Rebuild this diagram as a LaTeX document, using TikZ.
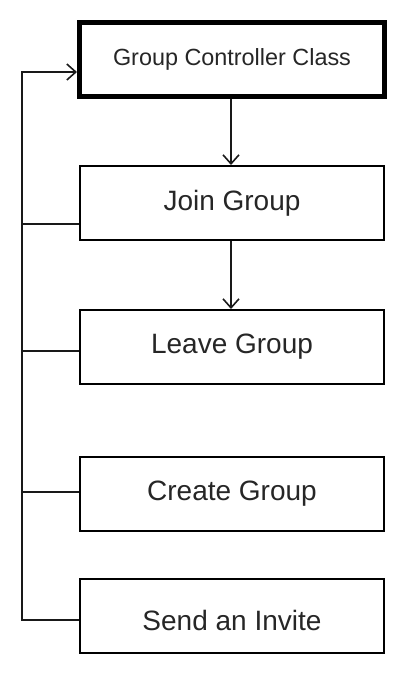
\documentclass[tikz,border=0pt]{standalone}
\usepackage{fontspec}
\setmainfont{Liberation Sans}
\usetikzlibrary{arrows.meta}
\begin{document}
\begin{tikzpicture}[x=1pt,y=-1pt,
  box/.style={draw=black, line width=2pt, minimum width=304.5pt, minimum height=74pt, inner sep=0pt, text=black!85, font=\fontsize{28}{32}\selectfont},
  topbox/.style={box, line width=5pt, minimum width=305pt, font=\fontsize{23.4}{27}\selectfont},
  conn/.style={line width=1.6pt, draw=black!90},
  tip/.style={-{Straight Barb[length=9pt,width=16pt,line width=1.6pt]}}
]
\useasboundingbox (0,0) rectangle (415,678);
\node[topbox] (top) at (232,59.5) {Group Controller Class};
\node[box] (join) at (232,203) {Join Group};
\node[box] (leave) at (232,347) {Leave Group};
\node[box] (create) at (232,494) {Create Group};
\node[box, text height=28pt, text depth=0pt] (send) at (232,616) {Send an Invite};
\coordinate (bT) at (22,72);
\coordinate (b1) at (22,224);
\coordinate (b2) at (22,351);
\coordinate (b3) at (22,492);
\coordinate (b4) at (22,620);
\draw[conn,tip] (top.south -| 231,0) -- (join.north -| 231,0);
\draw[conn,tip] (join.south -| 231,0) -- (leave.north -| 231,0);
\draw[conn,tip] (b4 -| send.west) -- (b4) -- (bT) -- (bT -| top.west);
\draw[conn] (b1) -- (b1 -| join.west);
\draw[conn] (b2) -- (b2 -| leave.west);
\draw[conn] (b3) -- (b3 -| create.west);
\end{tikzpicture}
\end{document}
